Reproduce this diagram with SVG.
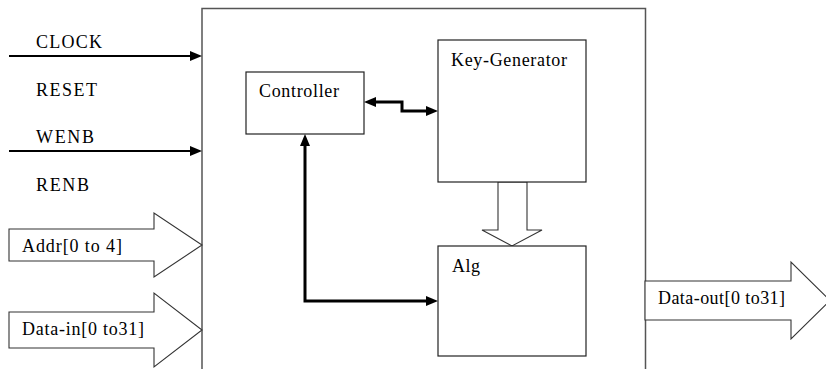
<svg xmlns="http://www.w3.org/2000/svg" width="826" height="369" viewBox="0 0 826 369">
  <defs>
    <marker id="ah" markerUnits="userSpaceOnUse" markerWidth="12" markerHeight="10" viewBox="0 0 12 10" refX="4" refY="5" orient="auto-start-reverse">
      <path d="M0,0 L12,5 L0,10 z" fill="#000"/>
    </marker>
  </defs>
  <style>
    text { font-family: "Liberation Serif", "Times New Roman", serif; font-size: 18px; fill: #000; }
    .box { fill: #fff; stroke: #222; stroke-width: 1.2; }
    .frame { fill: none; stroke: #555; stroke-width: 1.5; }
    .bus { fill: #fff; stroke: #333; stroke-width: 1.1; }
    .sig { fill: none; stroke: #000; stroke-width: 2; marker-end: url(#ah); }
    .thick { fill: none; stroke: #000; stroke-width: 3; }
  </style>
  <rect width="826" height="369" fill="#fff"/>

  <g id="top-module">
    <path class="frame" d="M202,369 V8.5 H645.5 V369"/>
  </g>

  <g id="connectors">
    <path class="sig" d="M9,56 H194"/>
    <path class="sig" d="M9,151 H194"/>
    <path class="thick" d="M372,102 H402 V111 H430" marker-start="url(#ah)" marker-end="url(#ah)"/>
    <path class="thick" d="M305,142 V301 H430" marker-start="url(#ah)" marker-end="url(#ah)"/>
    <polygon class="bus" points="498,182 527,182 527,230 542,230 512,246 482,230 498,230"/>
  </g>

  <g id="inputs">
    <text x="36" y="48" textLength="66">CLOCK</text>
    <text x="36" y="96" textLength="61">RESET</text>
    <text x="36" y="143" textLength="58">WENB</text>
    <text x="36" y="191" textLength="53">RENB</text>
  </g>

  <g id="addr">
    <polygon class="bus" points="9,229 154,229 154,213 202,245 154,277 154,261 9,261"/>
    <text x="22" y="252" textLength="100">Addr[0 to 4]</text>
  </g>

  <g id="data-in">
    <polygon class="bus" points="9,312 154,312 154,293 202,330 154,367 154,348 9,348"/>
    <text x="22" y="335" textLength="122">Data-in[0 to31]</text>
  </g>

  <g id="data-out">
    <polygon class="bus" points="645,281 791,281 791,262 830,300.5 791,339 791,320 645,320"/>
    <text x="658" y="304" textLength="127">Data-out[0 to31]</text>
  </g>

  <g id="controller">
    <rect class="box" x="246" y="72" width="118" height="62"/>
    <text x="259" y="97" textLength="80">Controller</text>
  </g>

  <g id="key-generator">
    <rect class="box" x="438" y="40" width="148" height="142"/>
    <text x="451" y="66" textLength="116">Key-Generator</text>
  </g>

  <g id="alg">
    <rect class="box" x="438" y="246" width="148" height="110"/>
    <text x="452" y="272" textLength="28">Alg</text>
  </g>
</svg>
